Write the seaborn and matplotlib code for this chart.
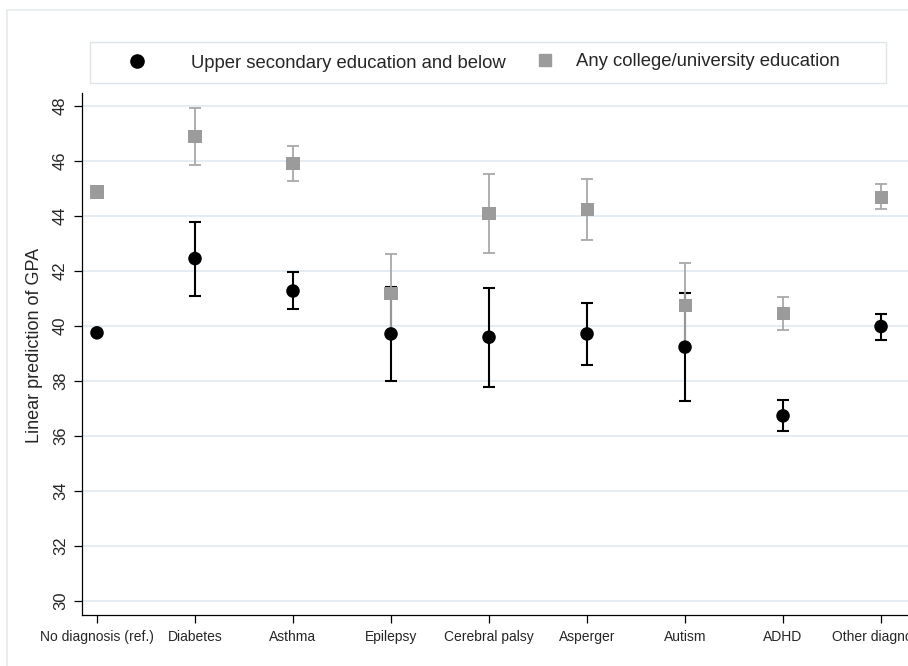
import numpy as np
import pandas as pd
import matplotlib
matplotlib.use("Agg")
import matplotlib.pyplot as plt
from matplotlib.lines import Line2D
from matplotlib.patches import Rectangle
import seaborn as sns

sns.set_theme(style="white")
plt.rcParams["font.family"] = ["Liberation Sans", "DejaVu Sans"]

# Data (predicted GPA with 95% CI)
diagnoses = ["No diagnosis (ref.)", "Diabetes", "Asthma", "Epilepsy", "Cerebral palsy",
             "Asperger", "Autism", "ADHD", "Other diagnosis"]
low_est = [39.75, 42.45, 41.27, 39.71, 39.59, 39.71, 39.23, 36.73, 39.98]
low_lo = [np.nan, 41.10, 40.60, 38.00, 37.78, 38.57, 37.26, 36.18, 39.50]
low_hi = [np.nan, 43.78, 41.96, 41.43, 41.38, 40.84, 41.19, 37.29, 40.43]
high_est = [44.87, 46.88, 45.89, 41.18, 44.08, 44.22, 40.74, 40.46, 44.68]
high_lo = [np.nan, 45.85, 45.27, 39.75, 42.67, 43.12, 39.20, 39.85, 44.24]
high_hi = [np.nan, 47.94, 46.55, 42.63, 45.51, 45.35, 42.28, 41.07, 45.15]
groups = ["Upper secondary education and below", "Any college/university education"]

pos = np.arange(len(diagnoses))
low = pd.DataFrame({"pos": pos, "est": low_est, "lo": low_lo, "hi": low_hi})
high = pd.DataFrame({"pos": pos, "est": high_est, "lo": high_lo, "hi": high_hi})

fig = plt.figure(figsize=(9.08, 6.66), dpi=100)

# light outer frame + legend box (stata style)
fig.add_artist(Rectangle((7 / 908, -20 / 666), 1.1, (666 - 10 + 20) / 666, transform=fig.transFigure,
                         facecolor="none", edgecolor="#e4eaee", lw=1.2))
fig.add_artist(Rectangle((90 / 908, (666 - 83) / 666), 796 / 908, 41 / 666, transform=fig.transFigure,
                         facecolor="white", edgecolor="#dde5ea", lw=1.0))

ax = fig.add_axes([82 / 908, 51 / 666, (912 - 82) / 908, (615 - 93) / 666])

# error bars: black first, gray on top
b = low.dropna()
ax.errorbar(b["pos"], b["est"], yerr=[b["est"] - b["lo"], b["hi"] - b["est"]], fmt="none",
            ecolor="black", elinewidth=1.5, capsize=4.4, capthick=1.5, zorder=2)
g = high.dropna()
ax.errorbar(g["pos"], g["est"], yerr=[g["est"] - g["lo"], g["hi"] - g["est"]], fmt="none",
            ecolor="#a8a8a8", elinewidth=1.3, capsize=4.0, capthick=1.3, zorder=3)

sns.scatterplot(data=high, x="pos", y="est", marker="s", color="#9b9b9b", s=88,
                edgecolor="none", linewidth=0, zorder=4, ax=ax)
sns.scatterplot(data=low, x="pos", y="est", marker="o", color="black", s=95,
                edgecolor="none", linewidth=0, zorder=5, ax=ax)

ax.set_xlim(-0.153, 8.316)
ax.set_ylim(29.49, 48.47)
ax.set_xticks(pos)
ax.set_xticklabels(diagnoses)
ax.set_yticks(np.arange(30, 49, 2))
ax.yaxis.grid(True, color="#e3ecf1", linewidth=1.3)
ax.set_axisbelow(True)
for side in ["top", "right"]:
    ax.spines[side].set_visible(False)
for side in ["left", "bottom"]:
    ax.spines[side].set_color("black")
    ax.spines[side].set_linewidth(0.9)

ax.tick_params(axis="both", which="major", direction="out", length=6, width=0.9, color="black",
               left=True, bottom=True)
ax.tick_params(axis="x", labelsize=10, pad=5)
ax.tick_params(axis="y", labelsize=12, labelrotation=90, pad=4)
for t in ax.get_yticklabels():
    t.set_va("center")
ax.set_xlabel("")
ax.set_ylabel("Linear prediction of GPA", fontsize=13)
ax.yaxis.set_label_coords(-0.047, 0.517)

h1 = [Line2D([], [], marker="o", color="black", linestyle="none", markersize=9.5)]
h2 = [Line2D([], [], marker="s", color="#9b9b9b", linestyle="none", markersize=8.5)]
fig.legend(h1, groups[:1], loc="center left", bbox_to_anchor=(128 / 908, (666 - 63) / 666),
           frameon=False, fontsize=13.3, handlelength=1.0, handletextpad=2.4,
           borderpad=0, borderaxespad=0)
fig.legend(h2, groups[1:], loc="center left", bbox_to_anchor=(536 / 908, (666 - 62) / 666),
           frameon=False, fontsize=13.3, handlelength=1.0, handletextpad=1.17,
           borderpad=0, borderaxespad=0)

fig.savefig("out.png", dpi=100)
